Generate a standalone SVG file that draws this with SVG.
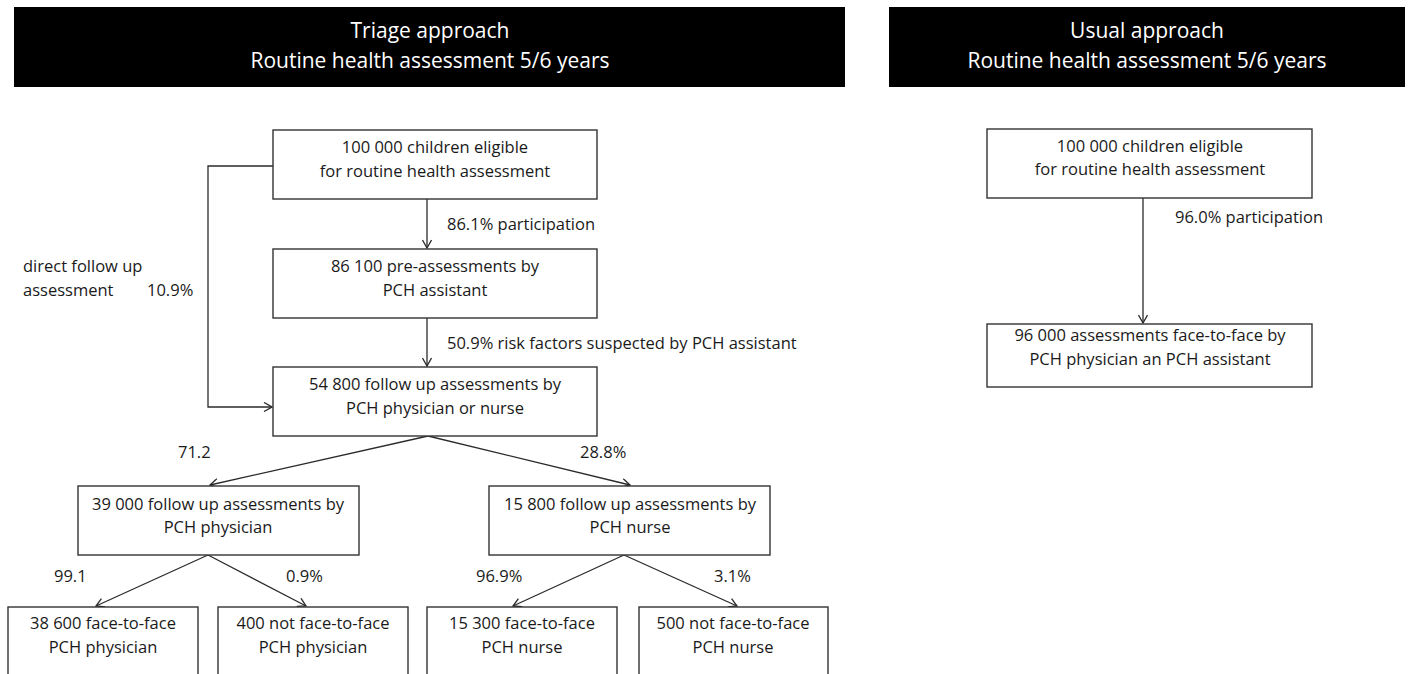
<svg xmlns="http://www.w3.org/2000/svg" width="1414" height="674" viewBox="0 0 1414 674">
<defs>
<marker id="arr" markerWidth="10" markerHeight="10" refX="9" refY="5" orient="auto" markerUnits="userSpaceOnUse">
<path d="M1,0.5 L9,5 L1,9.5" fill="none" stroke="#2b2b2b" stroke-width="1.3"/>
</marker>
<style>
.hdr{fill:#000}
.ht{font-family:"Open Sans","Liberation Sans",sans-serif;font-size:21px;fill:#fff;text-anchor:middle}
.box{fill:#fff;stroke:#333;stroke-width:1.4}
.t{font-family:"Open Sans","Liberation Sans",sans-serif;font-size:16.5px;fill:#1a1a1a;text-anchor:middle}
.l{font-family:"Open Sans","Liberation Sans",sans-serif;font-size:16.5px;fill:#1a1a1a}
.c{fill:none;stroke:#2b2b2b;stroke-width:1.3}
</style>
</defs>
<rect width="1414" height="674" fill="#fff"/>

<g id="header-triage">
<rect class="hdr" x="14" y="7" width="831" height="80"/>
<text class="ht" x="430" y="38">Triage approach</text>
<text class="ht" x="430" y="68">Routine health assessment 5/6 years</text>
</g>
<g id="header-usual">
<rect class="hdr" x="889" y="7" width="516" height="80"/>
<text class="ht" x="1147" y="38">Usual approach</text>
<text class="ht" x="1147" y="68">Routine health assessment 5/6 years</text>
</g>

<g id="connectors">
<line class="c" x1="427" y1="199" x2="427" y2="248" marker-end="url(#arr)"/>
<line class="c" x1="427" y1="318" x2="427" y2="366" marker-end="url(#arr)"/>
<polyline class="c" points="273,166 208,166 208,407 272,407" marker-end="url(#arr)"/>
<line class="c" x1="428" y1="436" x2="210" y2="485" marker-end="url(#arr)"/>
<line class="c" x1="428" y1="436" x2="630" y2="485" marker-end="url(#arr)"/>
<line class="c" x1="208" y1="555" x2="96" y2="606" marker-end="url(#arr)"/>
<line class="c" x1="208" y1="555" x2="306" y2="606" marker-end="url(#arr)"/>
<line class="c" x1="624" y1="555" x2="513" y2="606" marker-end="url(#arr)"/>
<line class="c" x1="624" y1="555" x2="737" y2="606" marker-end="url(#arr)"/>
<line class="c" x1="1143" y1="198" x2="1143" y2="323" marker-end="url(#arr)"/>
<text class="l" x="447" y="230">86.1% participation</text>
<text class="l" x="447" y="349">50.9% risk factors suspected by PCH assistant</text>
<text class="l" x="23" y="272">direct follow up</text>
<text class="l" x="23" y="296">assessment</text>
<text class="l" x="147" y="296">10.9%</text>
<text class="l" x="178" y="458">71.2</text>
<text class="l" x="580" y="458">28.8%</text>
<text class="l" x="54" y="582">99.1</text>
<text class="l" x="286" y="582">0.9%</text>
<text class="l" x="476" y="582">96.9%</text>
<text class="l" x="714" y="582">3.1%</text>
<text class="l" x="1175" y="223">96.0% participation</text>
</g>

<g id="node-eligible">
<rect class="box" x="273" y="130" width="324" height="69"/>
<text class="t" x="435" y="153">100 000 children eligible</text>
<text class="t" x="435" y="177">for routine health assessment</text>
</g>
<g id="node-preassess">
<rect class="box" x="273" y="249" width="324" height="69"/>
<text class="t" x="435" y="272">86 100 pre-assessments by</text>
<text class="t" x="435" y="296">PCH assistant</text>
</g>
<g id="node-followup">
<rect class="box" x="273" y="367" width="324" height="69"/>
<text class="t" x="435" y="390">54 800 follow up assessments by</text>
<text class="t" x="435" y="414">PCH physician or nurse</text>
</g>
<g id="node-physician">
<rect class="box" x="78" y="486" width="281" height="69"/>
<text class="t" x="218" y="510">39 000 follow up assessments by</text>
<text class="t" x="218" y="533">PCH physician</text>
</g>
<g id="node-nurse">
<rect class="box" x="489" y="486" width="281" height="69"/>
<text class="t" x="630" y="510">15 800 follow up assessments by</text>
<text class="t" x="630" y="533">PCH nurse</text>
</g>
<g id="node-f2f-physician">
<rect class="box" x="8" y="607" width="190" height="80"/>
<text class="t" x="103" y="629">38 600 face-to-face</text>
<text class="t" x="103" y="653">PCH physician</text>
</g>
<g id="node-nf2f-physician">
<rect class="box" x="218" y="607" width="190" height="80"/>
<text class="t" x="313" y="629">400 not face-to-face</text>
<text class="t" x="313" y="653">PCH physician</text>
</g>
<g id="node-f2f-nurse">
<rect class="box" x="427" y="607" width="190" height="80"/>
<text class="t" x="522" y="629">15 300 face-to-face</text>
<text class="t" x="522" y="653">PCH nurse</text>
</g>
<g id="node-nf2f-nurse">
<rect class="box" x="639" y="607" width="189" height="80"/>
<text class="t" x="733" y="629">500 not face-to-face</text>
<text class="t" x="733" y="653">PCH nurse</text>
</g>
<g id="node-usual-eligible">
<rect class="box" x="987" y="129" width="325" height="69"/>
<text class="t" x="1150" y="152">100 000 children eligible</text>
<text class="t" x="1150" y="175">for routine health assessment</text>
</g>
<g id="node-usual-assess">
<rect class="box" x="987" y="324" width="325" height="63"/>
<text class="t" x="1150" y="341">96 000 assessments face-to-face by</text>
<text class="t" x="1150" y="365">PCH physician an PCH assistant</text>
</g>
</svg>
